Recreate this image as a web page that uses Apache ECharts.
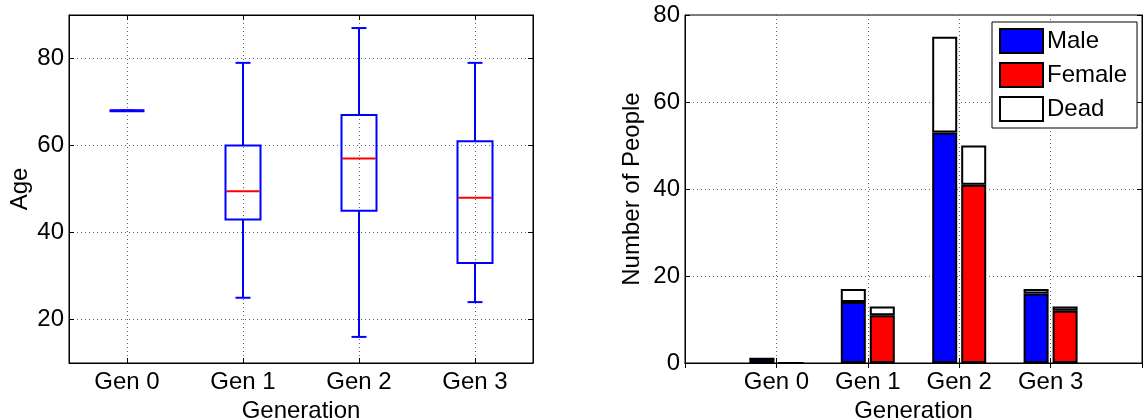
<!DOCTYPE html>
<html>
<head>
<meta charset="utf-8">
<script src="https://cdn.jsdelivr.net/npm/echarts@6/dist/echarts.min.js"></script>
<style>
html, body { margin: 0; padding: 0; background: #fff; }
#chart { width: 1144px; height: 418px; }
</style>
</head>
<body>
<div id="chart"></div>
<script>
// data
const generations = ['Gen 0', 'Gen 1', 'Gen 2', 'Gen 3'];
// age box stats per generation: min, q1, median, q3, max
const ageMin = [68, 25, 16, 24];
const ageQ1 = [68, 43, 45, 33];
const ageMedian = [68, 49.5, 57, 48];
const ageQ3 = [68, 60, 67, 61];
const ageMax = [68, 79, 87, 79];
// people counts
const maleAlive = [1, 14, 53, 16];
const maleDead = [0, 3, 22, 1];
const femaleAlive = [0, 11, 41, 12];
const femaleDead = [0, 2, 9, 1];

const FONT = 'Liberation Sans, Arial, sans-serif';
const gridLine = { show: true, lineStyle: { color: '#666', width: 1, type: [1, 3] } };
const blackLine = { show: true, lineStyle: { color: '#000', width: 1 } };
const inTick = { show: true, inside: true, length: 5, lineStyle: { color: '#000', width: 1 } };

var boxData = generations.map(function (g, i) {
    return [i + 1, ageMin[i], ageQ1[i], ageMedian[i], ageQ3[i], ageMax[i]];
});

// bar chart uses padded category list so the gens sit at 1..4 of 0..5
var barCats = [''].concat(generations).concat(['']);
function pad(arr) { return [null].concat(arr).concat([null]); }

function renderBox(params, api) {
    var x = api.value(0);
    var lo = api.coord([x, api.value(1)]);
    var q1 = api.coord([x, api.value(2)]);
    var md = api.coord([x, api.value(3)]);
    var q3 = api.coord([x, api.value(4)]);
    var hi = api.coord([x, api.value(5)]);
    var cx = lo[0], hw = 17.5, cw = 7.5;
    var flat = Math.abs(q1[1] - q3[1]) < 1;
    var blue = { stroke: '#0000ff', lineWidth: 2, fill: null };
    return {
        type: 'group',
        children: [
            { type: 'line', shape: { x1: cx, y1: hi[1], x2: cx, y2: q3[1] }, style: blue },
            { type: 'line', shape: { x1: cx, y1: q1[1], x2: cx, y2: lo[1] }, style: blue },
            { type: 'line', shape: { x1: cx - cw, y1: hi[1], x2: cx + cw, y2: hi[1] }, style: blue },
            { type: 'line', shape: { x1: cx - cw, y1: lo[1], x2: cx + cw, y2: lo[1] }, style: blue },
            { type: 'line', shape: { x1: cx - hw + 1, y1: md[1], x2: cx + hw - 1, y2: md[1] },
              style: { stroke: '#ff0000', lineWidth: 2 } },
            { type: 'rect', shape: { x: cx - hw, y: q3[1], width: 2 * hw, height: q1[1] - q3[1] },
              style: { stroke: '#0000ff', lineWidth: flat ? 3 : 2, fill: 'none' } }
        ]
    };
}

var chart = echarts.init(document.getElementById('chart'), null, { renderer: 'canvas' });

var barStyle = function (color) {
    return { color: color, borderColor: '#000', borderWidth: 2 };
};

var option = {
    animation: false,
    textStyle: { fontFamily: FONT, color: '#000' },
    grid: [
        { left: 69, top: 15, width: 464, height: 348, outerBoundsMode: 'none', containLabel: false,
          show: true, borderColor: '#000', borderWidth: 1, backgroundColor: '#fff' },
        { left: 685, top: 15, width: 457, height: 348, outerBoundsMode: 'none', containLabel: false,
          show: true, borderColor: '#000', borderWidth: 1, backgroundColor: '#fff' }
    ],
    legend: {
        data: ['Male', 'Female', 'Dead'],
        orient: 'vertical',
        left: 992,
        top: 22,
        padding: [6, 10, 6, 7],
        itemWidth: 43,
        itemHeight: 24,
        itemGap: 8,
        icon: 'rect',
        borderColor: '#000',
        borderWidth: 1,
        backgroundColor: '#fff',
        selectedMode: false,
        itemStyle: { borderColor: '#000', borderWidth: 2 },
        textStyle: { fontFamily: FONT, fontSize: 24, color: '#000', padding: [0, 0, 0, -1] }
    },
    xAxis: [
        {
            gridIndex: 0, type: 'value', min: 0.5, max: 4.5, splitNumber: 4,
            name: 'Generation', nameLocation: 'middle', nameGap: 29,
            nameTextStyle: { fontFamily: FONT, fontSize: 24, color: '#000' },
            axisLine: blackLine, axisTick: inTick, splitLine: gridLine,
            axisLabel: {
                fontFamily: FONT, fontSize: 24, color: '#000', margin: 7,
                showMinLabel: false, showMaxLabel: false,
                formatter: function (v) { return Number.isInteger(v) ? generations[v - 1] : ''; }
            }
        },
        {
            gridIndex: 0, type: 'value', position: 'top', min: 0.5, max: 4.5, splitNumber: 4,
            axisLine: blackLine, axisTick: inTick, axisLabel: { show: false }, splitLine: { show: false }
        },
        {
            gridIndex: 1, type: 'category', data: barCats, boundaryGap: false,
            name: 'Generation', nameLocation: 'middle', nameGap: 29,
            nameTextStyle: { fontFamily: FONT, fontSize: 24, color: '#000' },
            axisLine: blackLine, axisTick: inTick, splitLine: gridLine,
            axisLabel: { fontFamily: FONT, fontSize: 24, color: '#000', margin: 7, interval: 0 }
        },
        {
            gridIndex: 1, type: 'category', data: barCats, boundaryGap: false, position: 'top',
            axisLine: blackLine, axisTick: inTick, axisLabel: { show: false }, splitLine: { show: false }
        }
    ],
    yAxis: [
        {
            gridIndex: 0, type: 'value', min: 10, max: 90, splitNumber: 4,
            name: 'Age', nameLocation: 'middle', nameGap: 37,
            nameTextStyle: { fontFamily: FONT, fontSize: 24, color: '#000' },
            axisLine: blackLine, axisTick: inTick, splitLine: gridLine,
            axisLabel: {
                fontFamily: FONT, fontSize: 24, color: '#000', margin: 5,
                showMinLabel: false, showMaxLabel: false,
                formatter: function (v) { return v % 20 === 0 ? String(v) : ''; }
            }
        },
        {
            gridIndex: 0, type: 'value', position: 'right', min: 10, max: 90, splitNumber: 4,
            axisLine: blackLine, axisTick: inTick, axisLabel: { show: false }, splitLine: { show: false }
        },
        {
            gridIndex: 1, type: 'value', min: 0, max: 80, interval: 20,
            name: 'Number of People', nameLocation: 'middle', nameGap: 41,
            nameTextStyle: { fontFamily: FONT, fontSize: 24, color: '#000' },
            axisLine: blackLine, axisTick: inTick, splitLine: gridLine,
            axisLabel: { fontFamily: FONT, fontSize: 24, color: '#000', margin: 5 }
        },
        {
            gridIndex: 1, type: 'value', position: 'right', min: 0, max: 80, interval: 20,
            axisLine: blackLine, axisTick: inTick, axisLabel: { show: false }, splitLine: { show: false }
        }
    ],
    series: [
        {
            type: 'custom', name: 'Age', xAxisIndex: 0, yAxisIndex: 0,
            data: boxData, renderItem: renderBox,
            encode: { x: 0, y: [1, 2, 3, 4, 5] }
        },
        {
            type: 'bar', name: 'Male', xAxisIndex: 2, yAxisIndex: 2, stack: 'male',
            data: pad(maleAlive), barWidth: 25, barGap: '16%', itemStyle: barStyle('#0000ff')
        },
        {
            type: 'bar', name: 'Dead', xAxisIndex: 2, yAxisIndex: 2, stack: 'male',
            data: pad(maleDead), barWidth: 25, barGap: '16%', itemStyle: barStyle('#ffffff')
        },
        {
            type: 'bar', name: 'Female', xAxisIndex: 2, yAxisIndex: 2, stack: 'female',
            data: pad(femaleAlive), barWidth: 25, barGap: '16%', itemStyle: barStyle('#ff0000')
        },
        {
            type: 'bar', name: 'Dead', xAxisIndex: 2, yAxisIndex: 2, stack: 'female',
            data: pad(femaleDead), barWidth: 25, barGap: '16%', itemStyle: barStyle('#ffffff')
        }
    ]
};

chart.setOption(option);
</script>
</body>
</html>
